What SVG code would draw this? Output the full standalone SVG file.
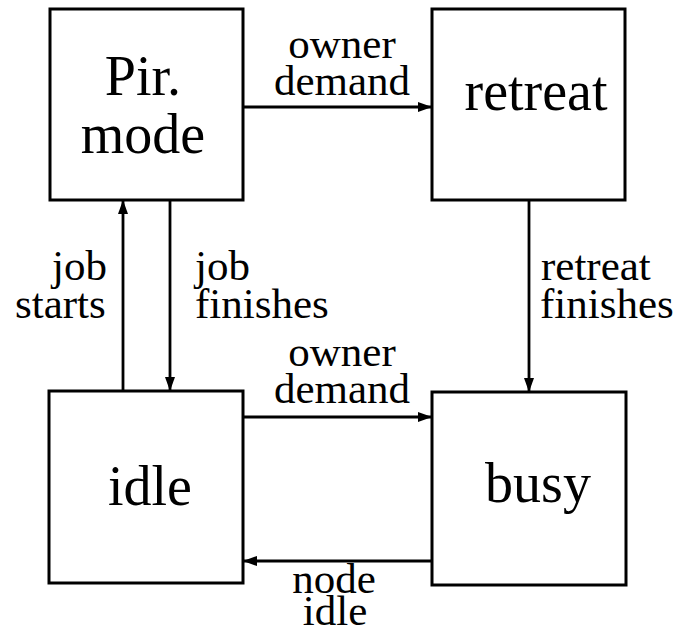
<svg xmlns="http://www.w3.org/2000/svg" width="677" height="635" viewBox="0 0 677 635">
<defs>
<style>
.box{fill:#fff;stroke:#000;stroke-width:3}
.edge{fill:none;stroke:#000;stroke-width:2.8}
.big{font-family:"Liberation Serif",serif;font-size:56px;fill:#000;text-anchor:middle}
.lbl{font-family:"Liberation Serif",serif;font-size:43px;fill:#000}
.mid{text-anchor:middle}
</style>
<marker id="ah" markerWidth="14" markerHeight="10" refX="13" refY="5" orient="auto" markerUnits="userSpaceOnUse">
<path d="M0,0 L14,5 L0,10 Z" fill="#000"/>
</marker>
</defs>
<rect width="677" height="635" fill="#fff"/>
<g id="pir">
<rect class="box" x="50" y="9" width="193" height="191"/>
<text class="big" x="143" y="95">Pir.</text>
<text class="big" x="143" y="153">mode</text>
</g>
<g id="retreat">
<rect class="box" x="432" y="9" width="193" height="191"/>
<text class="big" x="536" y="110">retreat</text>
</g>
<g id="idle">
<rect class="box" x="49" y="391" width="194" height="192"/>
<text class="big" x="150" y="505">idle</text>
</g>
<g id="busy">
<rect class="box" x="432" y="392" width="194" height="193"/>
<text class="big" x="538" y="502">busy</text>
</g>
<g id="connectors">
<line class="edge" x1="243" y1="107" x2="431" y2="107" marker-end="url(#ah)"/>
<line class="edge" x1="123" y1="390" x2="123" y2="201" marker-end="url(#ah)"/>
<line class="edge" x1="170" y1="200" x2="170" y2="390" marker-end="url(#ah)"/>
<line class="edge" x1="529" y1="200" x2="529" y2="391" marker-end="url(#ah)"/>
<line class="edge" x1="243" y1="417" x2="431" y2="417" marker-end="url(#ah)"/>
<line class="edge" x1="432" y1="561" x2="244" y2="561" marker-end="url(#ah)"/>
<text class="lbl mid" x="342" y="58">owner</text>
<text class="lbl mid" x="342" y="95">demand</text>
<text class="lbl mid" x="342" y="366">owner</text>
<text class="lbl mid" x="342" y="403">demand</text>
<text class="lbl" x="52" y="280">job</text>
<text class="lbl" x="15" y="318">starts</text>
<text class="lbl" x="195" y="280">job</text>
<text class="lbl" x="195" y="318">finishes</text>
<text class="lbl" x="541" y="280">retreat</text>
<text class="lbl" x="540" y="318">finishes</text>
<text class="lbl mid" x="334" y="593">node</text>
<text class="lbl mid" x="335" y="625">idle</text>
</g>
</svg>
